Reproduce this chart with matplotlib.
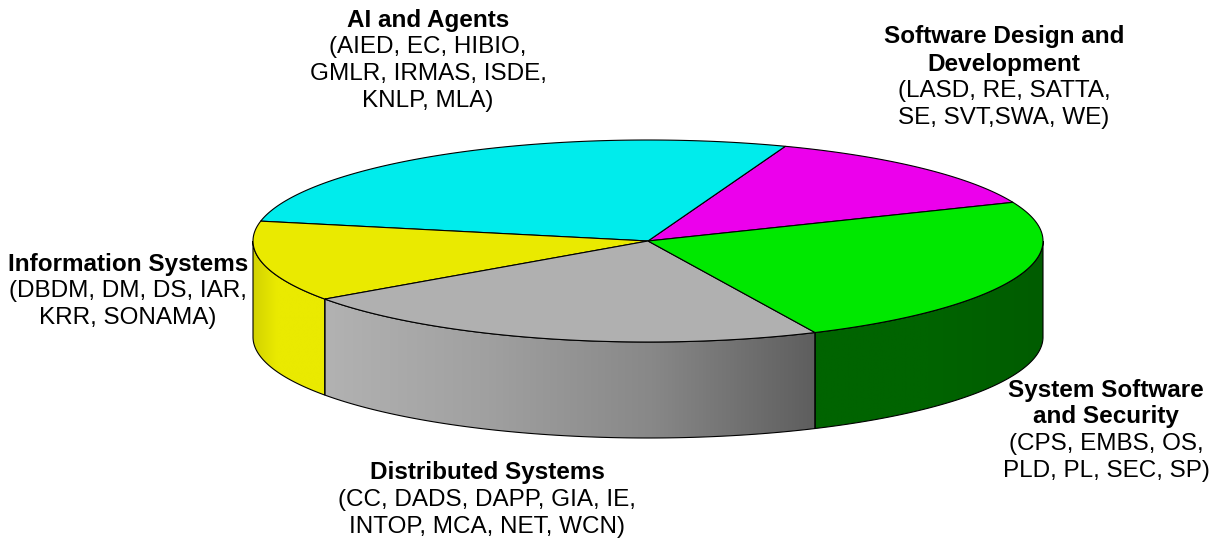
import numpy as np
import matplotlib.pyplot as plt
from matplotlib.patches import Polygon
from matplotlib.colors import LinearSegmentedColormap

plt.rc('font', family=['Liberation Sans', 'DejaVu Sans'])

# slices, counter-clockwise from the start angle
titles = ['Software Design and\nDevelopment', 'AI and Agents', 'Information Systems',
          'Distributed Systems', 'System Software\nand Security']
members = ['(LASD, RE, SATTA,\nSE, SVT,SWA, WE)',
           '(AIED, EC, HIBIO,\nGMLR, IRMAS, ISDE,\nKNLP, MLA)',
           '(DBDM, DM, DS, IAR,\nKRR, SONAMA)',
           '(CC, DADS, DAPP, GIA, IE,\nINTOP, MCA, NET, WCN)',
           '(CPS, EMBS, OS,\nPLD, PL, SEC, SP)']
shares = [13.1, 27.5, 12.9, 22.2, 24.3]
top_colors = ['#ec00ec', '#00ecec', '#eaea00', '#b0b0b0', '#00e800']
side_colors = [['#c000c0', '#c000c0'], ['#00c0c0', '#00c0c0'],
               ['#d2d200', '#eaea00', '#eaea00', '#eaea00'],
               ['#b2b2b2', '#a0a0a0', '#888888', '#5e5e5e'],
               ['#006400', '#006400', '#005c00']]
start_angle = 22.5

# label anchors: centre x, y of first line
label_pos = [(1004, 37), (428, 20), (128, 264), (487, 473), (1106, 390)]

cx, cy, rx, ry, depth = 648, 241, 395, 101, 96
line_h = 27
fs = 17.5

fig = plt.figure(figsize=(12.09, 5.4), dpi=100)
ax = fig.add_axes([0, 0, 1, 1])


def rim(t):
    r = np.radians(t)
    return cx + rx * np.cos(r), cy - ry * np.sin(r)


bounds = start_angle + 360 * np.concatenate([[0], np.cumsum(shares)]) / sum(shares)

# front walls
for i in range(len(shares)):
    lo, hi = max(bounds[i], 180), min(bounds[i + 1], 360)
    if lo >= hi:
        continue
    x, y = rim(np.linspace(lo, hi, 200))
    verts = np.column_stack([np.r_[x, x[::-1]], np.r_[y, y[::-1] + depth]])
    wall = Polygon(verts, closed=True, facecolor='none', edgecolor='black', lw=0.8, zorder=2)
    ax.add_patch(wall)
    cmap = LinearSegmentedColormap.from_list('side%d' % i, side_colors[i])
    im = ax.imshow(np.linspace(0, 1, 256)[None, :], cmap=cmap, aspect='auto',
                   extent=[x.min(), x.max(), y.max() + depth, y.min()], zorder=1)
    im.set_clip_path(wall)

# top face
for i in range(len(shares)):
    x, y = rim(np.linspace(bounds[i], bounds[i + 1], 200))
    verts = np.column_stack([np.r_[cx, x], np.r_[cy, y]])
    ax.add_patch(Polygon(verts, closed=True, facecolor=top_colors[i],
                         edgecolor='black', lw=0.8, zorder=3))

# labels
for i in range(len(shares)):
    x0, y0 = label_pos[i]
    lines = [(s, 'bold') for s in titles[i].split('\n')] + \
            [(s, 'normal') for s in members[i].split('\n')]
    for k, (s, w) in enumerate(lines):
        ax.text(x0, y0 + k * line_h, s, ha='center', va='center',
                fontsize=fs, fontweight=w, color='black')

ax.set_xlim(0, 1209)
ax.set_ylim(540, 0)
ax.axis('off')
fig.savefig('out.png', dpi=100)
